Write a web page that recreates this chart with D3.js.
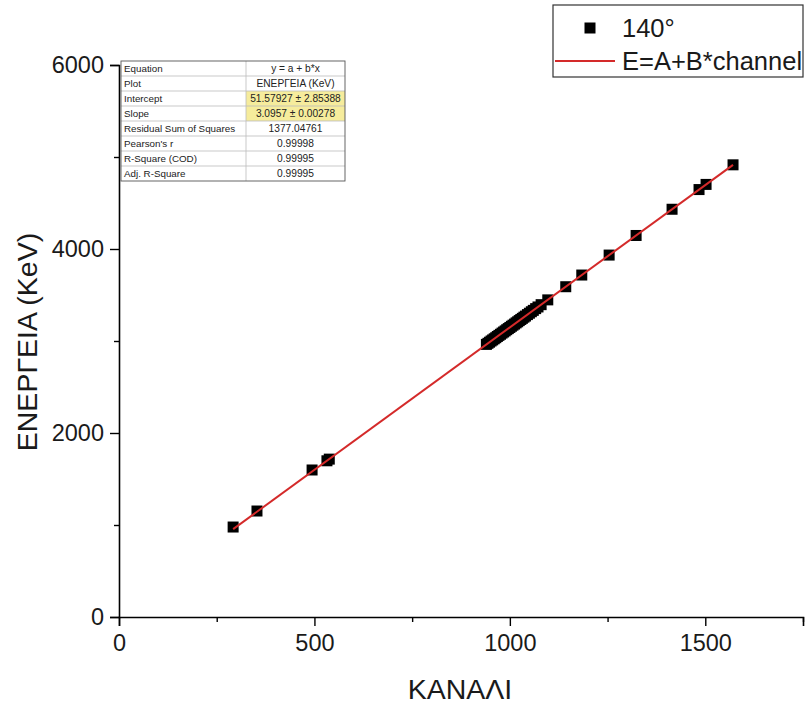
<!DOCTYPE html>
<html>
<head>
<meta charset="utf-8">
<script src="https://cdn.jsdelivr.net/npm/d3@7"></script>
<style>
  html, body { margin: 0; padding: 0; background: #fff; }
  svg { display: block; font-family: "Liberation Sans", Arial, sans-serif; }
</style>
</head>
<body>
<svg id="chart" width="807" height="704"></svg>
<script>
// Calibration points: channel vs measured energy (keV), 140° detector angle
const channels = [292, 353, 494, 532, 538,
  940, 944, 948, 952, 956, 960, 964, 968, 972, 976, 980, 984, 988, 992, 996,
  1000, 1004, 1008, 1012, 1016, 1020, 1024, 1028, 1032, 1036, 1040, 1045, 1050,
  1055, 1060, 1066, 1072, 1080, 1097, 1143, 1184, 1254, 1323, 1415, 1484, 1502, 1571];
const energies = [978, 1152, 1598, 1698, 1716,
  2963, 2975, 2987, 3000, 3012, 3024, 3036, 3049, 3061, 3073, 3086, 3098, 3110, 3123, 3135,
  3147, 3160, 3172, 3184, 3197, 3209, 3222, 3234, 3246, 3259, 3271, 3287, 3302,
  3318, 3333, 3352, 3370, 3395, 3447, 3590, 3717, 3934, 4147, 4432, 4646, 4702, 4915];

// Linear fit E = A + B*channel
const fitIntercept = 51.57927;
const fitSlope = 3.0957;

const xTicks = [0, 500, 1000, 1500];
const xMinorTicks = [250, 750, 1250, 1750];
const yTicks = [0, 2000, 4000, 6000];
const yMinorTicks = [1000, 3000, 5000];

const tableRows = [
  ["Equation", "y = a + b*x"],
  ["Plot", "ΕΝΕΡΓΕΙΑ (KeV)"],
  ["Intercept", "51.57927 ± 2.85388"],
  ["Slope", "3.0957 ± 0.00278"],
  ["Residual Sum of Squares", "1377.04761"],
  ["Pearson's r", "0.99998"],
  ["R-Square (COD)", "0.99995"],
  ["Adj. R-Square", "0.99995"]
];
const highlightRows = [2, 3];

const svg = d3.select("#chart");
const ink = "#1a1a1a";

const x = d3.scaleLinear().domain([0, 1750]).range([119, 803]);
const y = d3.scaleLinear().domain([0, 6000]).range([617, 65]);

// Axes with major and minor ticks
const xAxis = svg.append("g").attr("transform", "translate(0,617)");
xAxis.call(d3.axisBottom(x).tickValues(xTicks).tickSize(9).tickPadding(5).tickFormat(d3.format("d")));
xAxis.append("g").call(d3.axisBottom(x).tickValues(xMinorTicks).tickSize(5).tickFormat(""))
  .select(".domain").remove();

const yAxis = svg.append("g").attr("transform", "translate(119,0)");
yAxis.call(d3.axisLeft(y).tickValues(yTicks).tickSize(9).tickPadding(6).tickFormat(d3.format("d")));
yAxis.append("g").call(d3.axisLeft(y).tickValues(yMinorTicks).tickSize(5).tickFormat(""))
  .select(".domain").remove();

svg.selectAll(".domain").attr("stroke", "#000").attr("stroke-width", 1.6);
svg.selectAll(".tick line").attr("stroke", "#000").attr("stroke-width", 1.4);
svg.selectAll(".tick text")
  .attr("font-family", "Liberation Sans, Arial, sans-serif")
  .attr("font-size", 23.5).attr("fill", ink);
xAxis.selectAll(".tick text").attr("dy", "0.85em");

// Axis titles
svg.append("text").attr("x", 460).attr("y", 699).attr("text-anchor", "middle")
  .attr("font-size", 28.5).attr("fill", ink).text("ΚΑΝΑΛΙ");
svg.append("text").attr("transform", "translate(37,342) rotate(-90)").attr("text-anchor", "middle")
  .attr("font-size", 28.5).attr("fill", ink).text("ΕΝΕΡΓΕΙΑ (KeV)");

// Data markers
const ms = 11;
svg.append("g").selectAll("rect").data(channels).join("rect")
  .attr("x", (d) => x(d) - ms / 2)
  .attr("y", (d, i) => y(energies[i]) - ms / 2)
  .attr("width", ms).attr("height", ms)
  .attr("fill", "#000");

// Fit line over the data range
const xr = d3.extent(channels);
svg.append("line")
  .attr("x1", x(xr[0])).attr("y1", y(fitIntercept + fitSlope * xr[0]))
  .attr("x2", x(xr[1])).attr("y2", y(fitIntercept + fitSlope * xr[1]))
  .attr("stroke", "#d42a2a").attr("stroke-width", 2);

// Fit results table
const tX = 121, tY = 61, rowH = 15, col1W = 125, col2W = 99;
const table = svg.append("g");
table.selectAll("rect.hl").data(highlightRows).join("rect").attr("class", "hl")
  .attr("x", tX + col1W).attr("y", (d) => tY + d * rowH)
  .attr("width", col2W).attr("height", rowH).attr("fill", "#f6ec9c");
table.selectAll("line.row").data(d3.range(1, tableRows.length)).join("line").attr("class", "row")
  .attr("x1", tX).attr("x2", tX + col1W + col2W)
  .attr("y1", (d) => tY + d * rowH).attr("y2", (d) => tY + d * rowH)
  .attr("stroke", "#bbb").attr("stroke-width", 0.8);
table.append("line").attr("x1", tX + col1W).attr("x2", tX + col1W)
  .attr("y1", tY).attr("y2", tY + rowH * tableRows.length)
  .attr("stroke", "#bbb").attr("stroke-width", 0.8);
table.append("rect").attr("x", tX).attr("y", tY)
  .attr("width", col1W + col2W).attr("height", rowH * tableRows.length)
  .attr("fill", "none").attr("stroke", "#555").attr("stroke-width", 0.9);
table.selectAll("text.k").data(tableRows).join("text").attr("class", "k")
  .attr("x", tX + 3).attr("y", (d, i) => tY + i * rowH + 11)
  .attr("font-size", 9.8).attr("fill", "#222").text((d) => d[0]);
table.selectAll("text.v").data(tableRows).join("text").attr("class", "v")
  .attr("x", tX + col1W + col2W / 2).attr("y", (d, i) => tY + i * rowH + 11)
  .attr("text-anchor", "middle").attr("font-size", 10.2).attr("fill", "#222").text((d) => d[1]);

// Legend
const lg = svg.append("g");
lg.append("rect").attr("x", 553).attr("y", 5).attr("width", 250).attr("height", 72)
  .attr("fill", "#fff").attr("stroke", "#333").attr("stroke-width", 1.2);
lg.append("rect").attr("x", 590 - ms / 2).attr("y", 28 - ms / 2).attr("width", ms).attr("height", ms).attr("fill", "#000");
lg.append("text").attr("x", 622).attr("y", 37).attr("font-size", 25.5).attr("fill", ink).text("140°");
lg.append("line").attr("x1", 555).attr("x2", 615).attr("y1", 61).attr("y2", 61)
  .attr("stroke", "#d42a2a").attr("stroke-width", 2);
lg.append("text").attr("x", 622).attr("y", 70).attr("font-size", 25.5).attr("fill", ink).text("E=A+B*channel");
</script>
</body>
</html>
